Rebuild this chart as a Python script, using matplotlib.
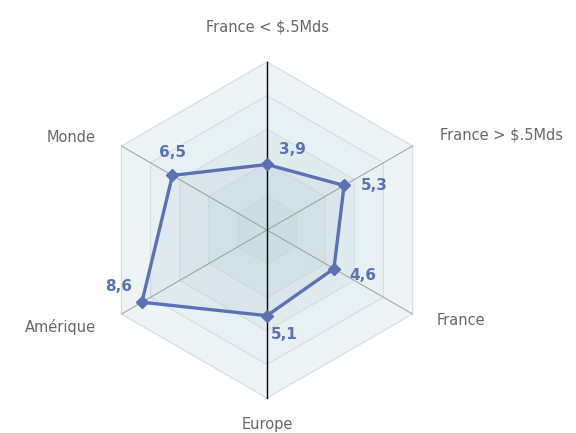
import numpy as np
import matplotlib
matplotlib.use("Agg")
import matplotlib.pyplot as plt

# axes of the radar, clockwise from the top
categories = ["France < $.5Mds", "France > $.5Mds", "France", "Europe", "Amérique", "Monde"]
values = [3.9, 5.3, 4.6, 5.1, 8.6, 6.5]
value_labels = ["3,9", "5,3", "4,6", "5,1", "8,6", "6,5"]
rings = [10, 8, 6, 4, 2]

ring_colors = ["#eef4f6", "#e7f0f2", "#e0ebee", "#d9e7eb", "#d3e3e7"]
line_color = "#5a71b6"
text_color = "#666666"

n = len(categories)
angles = np.pi / 2 - np.arange(n) * 2 * np.pi / n


def to_xy(r, a):
    return np.asarray(r) * np.cos(a), np.asarray(r) * np.sin(a)


fig = plt.figure(figsize=(5.76, 4.33), dpi=100)
ax = fig.add_axes([0, 0, 1, 1])
u = 16.8  # pixels per unit
ax.set_xlim(-267 / u, 309 / u)
ax.set_ylim(-203 / u, 230 / u)
ax.axis("off")

# background bands
for r, c in zip(rings, ring_colors):
    x, y = to_xy(np.full(n, r), angles)
    ax.fill(x, y, color=c, zorder=1)
    ax.plot(np.append(x, x[0]), np.append(y, y[0]), color="#d6dee0", lw=0.8, zorder=2)

# spokes
for i, a in enumerate(angles):
    if i % 3 == 0:
        continue
    x, y = to_xy([10, 0], [a, a])
    ax.plot(x, y, color="#a3ab9f", lw=0.8, zorder=3)
x, y = to_xy([10, 10], [angles[0], angles[3]])
ax.plot(x, y, color="black", lw=1.0, zorder=3)

# data
x, y = to_xy(values, angles)
ax.fill(x, y, color=line_color, alpha=0.05, zorder=4)
ax.plot(np.append(x, x[0]), np.append(y, y[0]), color=line_color, lw=2.4, zorder=5)
ax.plot(x, y, "D", color=line_color, ms=6, zorder=6)

offsets = [(25, 15), (30, 0), (29, -7), (17, -19), (-23, 16), (0, 23)]
for xi, yi, lab, off in zip(x, y, value_labels, offsets):
    ax.annotate(lab, (xi, yi), xytext=off, textcoords="offset pixels",
                ha="center", va="center", color=line_color,
                fontsize=11, fontweight="bold", zorder=7)

# category labels
label_pos = [(0, 12.1, "center"), (10.3, 5.65, "left"), (10.1, -5.4, "left"),
             (0, -11.6, "center"), (-10.2, -5.8, "right"), (-10.2, 5.5, "right")]
for lab, (lx, ly, ha) in zip(categories, label_pos):
    ax.text(lx, ly, lab, ha=ha, va="center", color=text_color, fontsize=10.5)

fig.savefig("out.png", dpi=100)
